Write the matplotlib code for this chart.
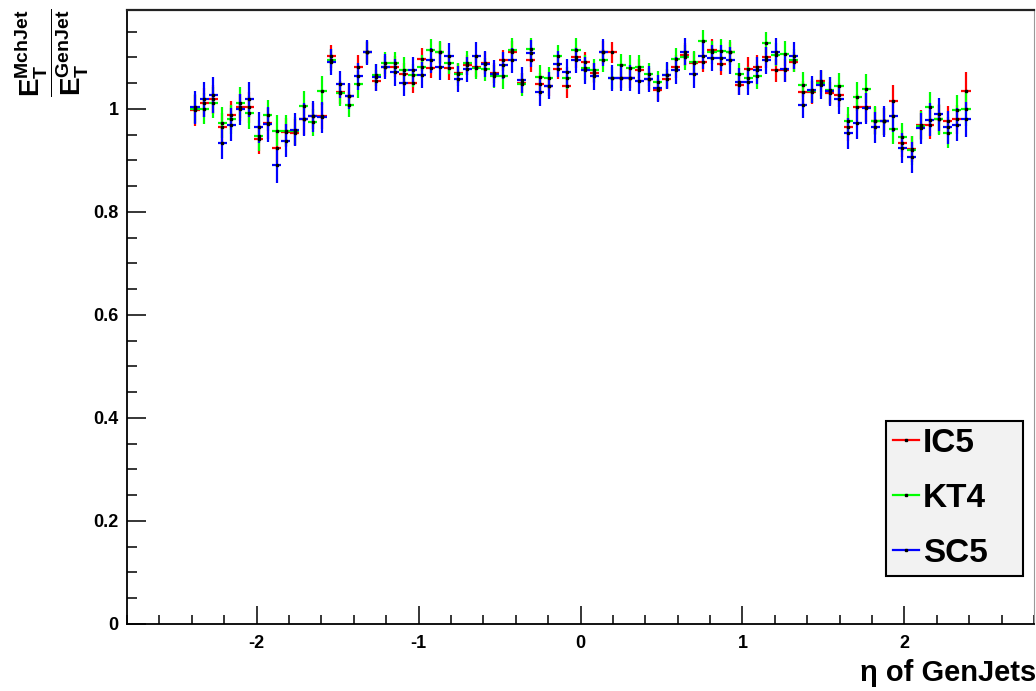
import numpy as np
import matplotlib
matplotlib.use("Agg")
import matplotlib.pyplot as plt
from matplotlib.ticker import MultipleLocator
from matplotlib.lines import Line2D

# ---- data -------------------------------------------------------------
bin_edges = np.linspace(-2.8, 2.8, 101)      # 100 bins over the axis range
first_bin, last_bin = 7, 92                  # filled bins

ic5 = [0.997, 1.012, 1.019, 0.964, 0.988, 1.003, 1.003, 0.941, 0.972, 0.925,
       0.955, 0.954, 0.980, 0.986, 0.986, 1.102, 1.032, 1.026, 1.082, 1.110,
       1.055, 1.082, 1.082, 1.067, 1.051, 1.096, 1.080, 1.110, 1.079, 1.070,
       1.085, 1.082, 1.089, 1.070, 1.094, 1.111, 1.050, 1.094, 1.048, 1.045,
       1.078, 1.044, 1.100, 1.091, 1.070, 1.110, 1.110, 1.060, 1.060, 1.076,
       1.058, 1.037, 1.058, 1.082, 1.105, 1.090, 1.091, 1.115, 1.087, 1.110,
       1.047, 1.078, 1.082, 1.100, 1.075, 1.075, 1.091, 1.032, 1.032, 1.054,
       1.030, 1.027, 0.964, 1.003, 1.003, 0.977, 0.976, 1.016, 0.933, 0.922,
       0.969, 0.969, 0.980, 0.977, 0.980, 1.035]
kt4 = [1.000, 1.000, 1.012, 0.973, 0.980, 1.012, 0.993, 0.948, 0.988, 0.958,
       0.958, 0.957, 1.005, 0.974, 1.035, 1.095, 1.030, 1.008, 1.048, 1.110,
       1.066, 1.089, 1.089, 1.076, 1.065, 1.082, 1.114, 1.110, 1.090, 1.067,
       1.089, 1.080, 1.077, 1.063, 1.063, 1.115, 1.048, 1.116, 1.061, 1.060,
       1.102, 1.060, 1.115, 1.080, 1.075, 1.094, 1.060, 1.085, 1.080, 1.082,
       1.067, 1.052, 1.065, 1.097, 1.100, 1.091, 1.131, 1.110, 1.113, 1.110,
       1.067, 1.060, 1.063, 1.127, 1.105, 1.107, 1.094, 1.047, 1.035, 1.050,
       1.036, 1.044, 0.977, 1.024, 1.039, 0.977, 0.976, 0.961, 0.945, 0.920,
       0.967, 1.003, 0.980, 0.954, 0.997, 0.999]
sc5 = [1.003, 1.019, 1.027, 0.933, 0.969, 0.999, 1.019, 0.964, 0.970, 0.891,
       0.938, 0.960, 0.980, 0.986, 0.984, 1.091, 1.048, 1.025, 1.063, 1.110,
       1.061, 1.082, 1.071, 1.051, 1.075, 1.066, 1.094, 1.082, 1.102, 1.058,
       1.077, 1.103, 1.087, 1.068, 1.085, 1.094, 1.056, 1.108, 1.032, 1.045,
       1.087, 1.071, 1.094, 1.075, 1.063, 1.110, 1.060, 1.060, 1.060, 1.055,
       1.058, 1.040, 1.065, 1.075, 1.111, 1.067, 1.103, 1.099, 1.099, 1.094,
       1.053, 1.053, 1.075, 1.094, 1.111, 1.078, 1.103, 1.008, 1.037, 1.047,
       1.034, 1.019, 0.953, 0.972, 1.001, 0.964, 0.976, 0.986, 0.924, 0.906,
       0.962, 0.979, 0.990, 0.964, 0.969, 0.980]

ic5_err = [0.030, 0.028, 0.028, 0.028, 0.028, 0.026, 0.030, 0.028, 0.030, 0.030,
           0.028, 0.026, 0.030, 0.025, 0.025, 0.022, 0.022, 0.022, 0.022, 0.020,
           0.020, 0.020, 0.020, 0.022, 0.020, 0.022, 0.020, 0.020, 0.022, 0.020,
           0.020, 0.020, 0.022, 0.020, 0.020, 0.020, 0.020, 0.022, 0.022, 0.020,
           0.020, 0.022, 0.020, 0.020, 0.020, 0.022, 0.020, 0.020, 0.020, 0.020,
           0.022, 0.022, 0.020, 0.022, 0.022, 0.020, 0.020, 0.020, 0.022, 0.020,
           0.020, 0.022, 0.022, 0.020, 0.022, 0.022, 0.020, 0.022, 0.022, 0.022,
           0.022, 0.024, 0.026, 0.026, 0.028, 0.026, 0.026, 0.030, 0.026, 0.026,
           0.028, 0.028, 0.028, 0.028, 0.028, 0.036]
kt4_err = [0.028, 0.030, 0.030, 0.030, 0.028, 0.030, 0.032, 0.030, 0.030, 0.030,
           0.030, 0.028, 0.030, 0.026, 0.028, 0.022, 0.024, 0.024, 0.026, 0.022,
           0.022, 0.022, 0.022, 0.024, 0.022, 0.022, 0.022, 0.022, 0.022, 0.022,
           0.024, 0.022, 0.022, 0.022, 0.024, 0.022, 0.022, 0.022, 0.024, 0.022,
           0.022, 0.022, 0.022, 0.024, 0.022, 0.022, 0.022, 0.022, 0.024, 0.022,
           0.022, 0.022, 0.024, 0.022, 0.024, 0.022, 0.022, 0.022, 0.022, 0.024,
           0.022, 0.022, 0.024, 0.022, 0.022, 0.024, 0.022, 0.024, 0.024, 0.024,
           0.026, 0.026, 0.026, 0.028, 0.028, 0.028, 0.026, 0.030, 0.028, 0.028,
           0.028, 0.030, 0.030, 0.030, 0.030, 0.032]
sc5_err = [0.032, 0.034, 0.034, 0.030, 0.032, 0.030, 0.034, 0.030, 0.034, 0.034,
           0.032, 0.032, 0.032, 0.030, 0.030, 0.026, 0.026, 0.026, 0.026, 0.024,
           0.026, 0.024, 0.026, 0.026, 0.026, 0.026, 0.024, 0.026, 0.026, 0.026,
           0.024, 0.026, 0.026, 0.026, 0.026, 0.024, 0.026, 0.026, 0.026, 0.026,
           0.026, 0.026, 0.024, 0.026, 0.026, 0.026, 0.026, 0.026, 0.026, 0.026,
           0.026, 0.026, 0.026, 0.026, 0.026, 0.026, 0.026, 0.026, 0.026, 0.026,
           0.026, 0.026, 0.026, 0.026, 0.026, 0.026, 0.026, 0.026, 0.026, 0.028,
           0.028, 0.028, 0.030, 0.030, 0.030, 0.030, 0.030, 0.030, 0.030, 0.030,
           0.030, 0.032, 0.032, 0.032, 0.032, 0.034]

series_names = ["IC5", "KT4", "SC5"]
series_colors = ["#ff0000", "#00ff00", "#0000ff"]

# ---- figure -----------------------------------------------------------
plt.rcParams["font.family"] = ["Liberation Sans", "DejaVu Sans"]
plt.rcParams["font.weight"] = "bold"
plt.rcParams["mathtext.fontset"] = "custom"
plt.rcParams["mathtext.bf"] = "Liberation Sans:bold"
plt.rcParams["mathtext.rm"] = "Liberation Sans:bold"

W, H = 1036, 691
fig = plt.figure(figsize=(W / 100, H / 100), dpi=100)
ax_l, ax_r, ax_t, ax_b = 127, 1034, 10, 624
ax = fig.add_axes([ax_l / W, 1 - ax_b / H, (ax_r - ax_l) / W, (ax_b - ax_t) / H])

centers = 0.5 * (bin_edges[:-1] + bin_edges[1:])[first_bin:last_bin + 1]
half_w = 0.5 * (bin_edges[1] - bin_edges[0])

for vals, errs, col in zip([ic5, kt4, sc5], [ic5_err, kt4_err, sc5_err], series_colors):
    ax.errorbar(centers, vals, yerr=errs, xerr=half_w, fmt="none",
                ecolor=col, elinewidth=1.6, capsize=0, zorder=3)
    ax.plot(centers, vals, linestyle="none", marker="s", ms=1.6,
            mfc="black", mec="black", zorder=4)

ax.set_xlim(-2.8, 2.8)
ax.set_ylim(0, 1.192)
ax.xaxis.set_major_locator(MultipleLocator(1))
ax.xaxis.set_minor_locator(MultipleLocator(0.2))
ax.yaxis.set_major_locator(MultipleLocator(0.2))
ax.yaxis.set_minor_locator(MultipleLocator(0.05))
ax.tick_params(axis="both", which="both", direction="in", width=1.1,
               labelsize=13, top=False, right=False)
ax.tick_params(axis="x", which="major", length=13, pad=8)
ax.tick_params(axis="x", which="minor", length=6.5)
ax.tick_params(axis="y", which="major", length=13.5, pad=6)
ax.tick_params(axis="y", which="minor", length=7.5)
ax.xaxis.set_major_formatter(matplotlib.ticker.FuncFormatter(lambda v, p: f"{v:g}"))
ax.yaxis.set_major_formatter(matplotlib.ticker.FuncFormatter(lambda v, p: f"{v:g}"))
for lab in ax.get_xticklabels() + ax.get_yticklabels():
    lab.set_fontweight("bold")

for s in ["left", "bottom"]:
    ax.spines[s].set_linewidth(1.3)
    ax.spines[s].set_color("black")
ax.spines["top"].set_linewidth(1.6)
ax.spines["top"].set_color("#222222")
ax.spines["right"].set_linewidth(0.8)
ax.spines["right"].set_color("#999999")

# axis titles
fig.text(1.0, 1 - 673 / H, "\u03b7 of GenJets", ha="right", va="center",
         fontsize=21, fontweight="bold")
fig.text(52 / W, 1 - 8 / H,
         r"$\dfrac{\mathbf{E}_{\mathbf{T}}^{\mathbf{MchJet}}}{\mathbf{E}_{\mathbf{T}}^{\mathbf{GenJet}}}$",
         rotation=90, ha="center", va="top", fontsize=20)

# legend
handles = [Line2D([], [], color=c, lw=1.6, marker="s", ms=1.6, mfc="black", mec="black")
           for c in series_colors]
lx0, lx1, ly0, ly1 = 886, 1023, 417, 580
leg = ax.legend(handles, series_names,
                bbox_to_anchor=((lx0 - ax_l) / (ax_r - ax_l), (ax_b - ly1) / (ax_b - ax_t),
                                (lx1 - lx0) / (ax_r - ax_l), (ly1 - ly0) / (ax_b - ax_t)),
                loc="center left", mode="expand", borderaxespad=0,
                prop={"size": 24, "weight": "bold"}, handlelength=0.8,
                handletextpad=0.1, labelspacing=0.72, borderpad=0.2,
                frameon=True, fancybox=False, edgecolor="black",
                facecolor="#f2f2f2", framealpha=1)
leg.get_frame().set_linewidth(1.5)

fig.savefig("out.png", dpi=100)
